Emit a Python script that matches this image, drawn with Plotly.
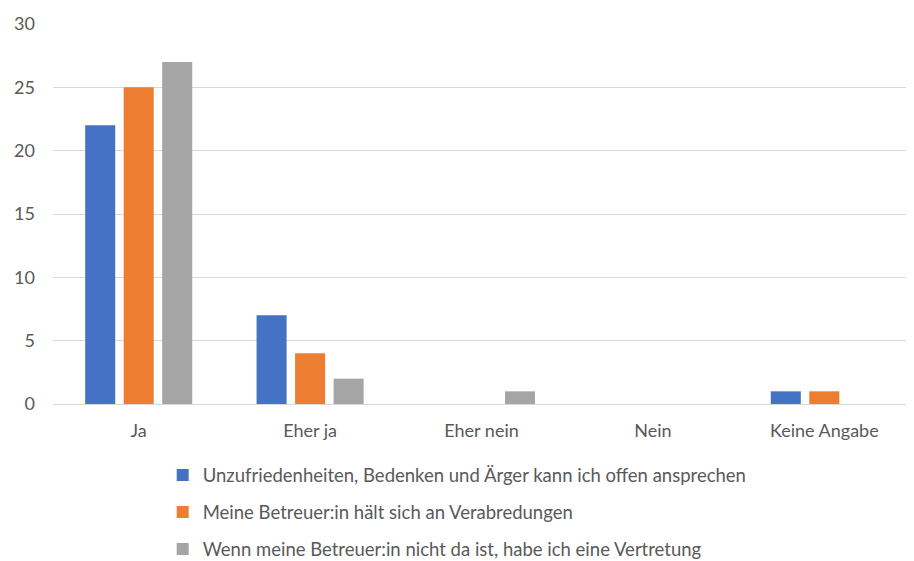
import plotly.graph_objects as go

categories = ["Ja", "Eher ja", "Eher nein", "Nein", "Keine Angabe"]
series_names = [
    "Unzufriedenheiten, Bedenken und Ärger kann ich offen ansprechen",
    "Meine Betreuer:in hält sich an Verabredungen",
    "Wenn meine Betreuer:in nicht da ist, habe ich eine Vertretung",
]
values_blue = [22, 7, 0, 0, 1]
values_orange = [25, 4, 0, 0, 1]
values_gray = [27, 2, 1, 0, 0]
colors = ["#4472C4", "#ED7D31", "#A5A5A5"]
y_ticks = [0, 5, 10, 15, 20, 25, 30]

FONT = "Lato, Carlito, Calibri, sans-serif"
TXT = "#595959"

fig = go.Figure()
for i, (name, vals) in enumerate(zip(series_names, [values_blue, values_orange, values_gray])):
    fig.add_trace(go.Bar(x=categories, y=vals, name=name, marker_color=colors[i],
                         marker_line_width=0, legendgroup=f"g{i}"))

fig.update_layout(
    width=914, height=561,
    margin=dict(l=45, r=12, t=16, b=165, autoexpand=False),
    paper_bgcolor="white", plot_bgcolor="white",
    barmode="group", bargap=0.326, bargroupgap=0.22,
    font=dict(family=FONT, size=18, color=TXT),
    showlegend=True,
    legend=dict(orientation="v", x=0.128, y=-0.138, xanchor="left", yanchor="top",
                tracegroupgap=10, font=dict(size=18.5, color=TXT),
                bgcolor="rgba(0,0,0,0)"),
    xaxis=dict(showgrid=False, showline=True, linecolor="#D9D9D9", linewidth=1,
               ticks="", tickangle=0, tickfont=dict(size=18, color=TXT),
               ticklabelstandoff=10, fixedrange=True),
    yaxis=dict(range=[0, 30], tickvals=y_ticks, showgrid=True, gridcolor="#D9D9D9",
               gridwidth=1, zeroline=False, showline=False, ticks="",
               tickfont=dict(size=18, color=TXT), ticklabelstandoff=17),
)

fig.write_html("out.html")
